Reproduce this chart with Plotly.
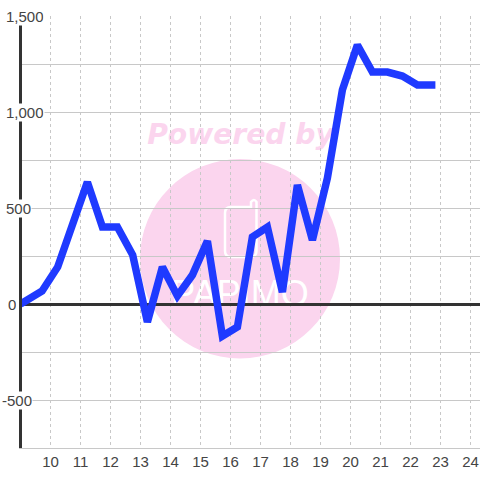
import plotly.graph_objects as go

hours = [9.0, 9.72, 10.24, 10.74, 11.23, 11.73, 12.23, 12.74, 13.23, 13.73, 14.23, 14.73, 15.23, 15.73,
         16.23, 16.73, 17.23, 17.73, 18.23, 18.73, 19.23, 19.73, 20.23, 20.73, 21.23, 21.73, 22.23, 22.83]
values = [0, 68, 193, 411, 635, 401, 401, 255, -94, 193, 42, 151, 328, -167,
          -120, 349, 401, 62, 620, 333, 656, 1115, 1349, 1208, 1208, 1187, 1141, 1141]
x_ticks = list(range(10, 25))
y_major = [1500, 1000, 500, 0, -500]
y_labels = ["1,500", "1,000", "500", "0", "-500"]

W, H = 480, 480
ML, MR, MT, MB = 22, 0, 16, 32
X0, X1 = 9 + (ML - 20.5) / 30, 9 + (480 - 20.5) / 30
Y0, Y1 = -750, 1500
PINK = "#fbd5ee"
TXT = "#444444"

def fx(v):
    return (v - ML) / (W - ML)
def fy(v):
    return (H - MB - v) / (H - MT - MB)

def rect(x0, y0, x1, y1, **kw):
    return dict(type="rect", xref="paper", yref="paper", layer="below",
                x0=fx(x0), x1=fx(x1), y0=fy(y0), y1=fy(y1), **kw)

logo_steps = [("M", 231, 207), ("L", 251, 207), ("L", 251, 202), ("Q", 254, 198, 256.5, 202),
              ("L", 256.5, 251), ("Q", 256.5, 257, 250, 257), ("L", 231, 257), ("Q", 225, 257, 225, 251),
              ("L", 225, 213), ("Q", 225, 207, 231, 207)]
def logo_path():
    parts = []
    for step in logo_steps:
        nums = step[1:]
        coords = [f"{fx(nums[i]):.5f},{fy(nums[i + 1]):.5f}" for i in range(0, len(nums), 2)]
        parts.append(step[0] + " ".join(coords))
    return " ".join(parts) + " Z"

shapes = [
    dict(type="circle", xref="paper", yref="paper", layer="below",
         x0=fx(140), x1=fx(340), y0=fy(358.5), y1=fy(159),
         fillcolor=PINK, line_width=0),
    dict(type="path", xref="paper", yref="paper", layer="below", path=logo_path(),
         fillcolor="rgba(0,0,0,0)", line=dict(color="white", width=2.5)),
    rect(140, 114, 341, 150, fillcolor="rgba(0,0,0,0)", line_width=0,
         label=dict(text="<b><i>Powered by</i></b>",
                    font=dict(family="DejaVu Sans", size=28.2, color=PINK),
                    textposition="middle center")),
    rect(160, 272, 320, 308, fillcolor="rgba(0,0,0,0)", line_width=0,
         label=dict(text="PAPIMO", font=dict(family="Liberation Sans", size=36, color="white"),
                    textposition="middle center")),
]

fig = go.Figure()
fig.add_trace(go.Scatter(x=hours, y=values, mode="lines", hoverinfo="skip",
                         line=dict(color="#1f3aff", width=7.5), cliponaxis=False))

lefts = {"1,500": 5, "1,000": 5, "500": 5, "0": 7, "-500": 1}
annotations = [
    dict(x=fx(lefts[t]), y=v, xref="paper", yref="y", text=t, showarrow=False, xanchor="left",
         yanchor="middle", bgcolor="white", borderpad=0, height=17,
         font=dict(family="Liberation Sans", size=15, color=TXT))
    for v, t in zip(y_major, y_labels)
]

fig.update_layout(
    width=W, height=H, autosize=False, showlegend=False,
    margin=dict(l=ML, r=MR, t=MT, b=MB, pad=0),
    paper_bgcolor="white", plot_bgcolor="rgba(0,0,0,0)",
    shapes=shapes, annotations=annotations,
    xaxis=dict(range=[X0, X1], tickmode="array", tickvals=x_ticks, ticktext=[str(t) for t in x_ticks],
               showgrid=True, griddash="dot", gridcolor="#c8c8c8", gridwidth=1,
               ticks="", showline=True, linecolor="#c8c8c8", linewidth=1, zeroline=False,
               tickfont=dict(family="Liberation Sans", size=15, color=TXT)),
    yaxis=dict(range=[Y0, Y1], tickmode="array", tickvals=list(range(-750, 1501, 250)),
               showticklabels=False, showgrid=True, gridcolor="#c8c8c8", gridwidth=1,
               ticks="", showline=True, linecolor="#333333", linewidth=3,
               zeroline=True, zerolinecolor="#333333", zerolinewidth=3),
)
fig.write_html("out.html", post_script="document.body.style.margin='0';",
               config={"displayModeBar": False})
